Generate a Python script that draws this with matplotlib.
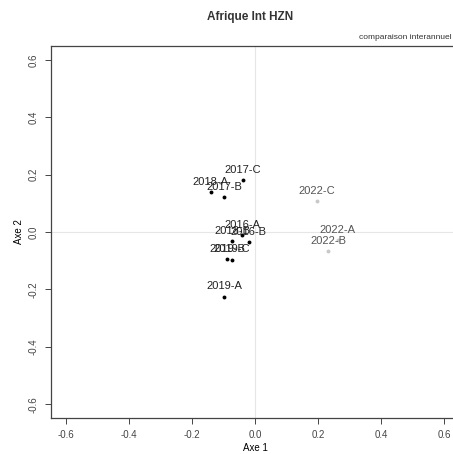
import matplotlib.pyplot as plt

plt.rcParams['font.family'] = ['Liberation Sans', 'DejaVu Sans']

# coordinates of each sample on the first two axes
labels = ["2016-A", "2016-B", "2017-B", "2017-C", "2018-A", "2018-B",
          "2019-A", "2019-B", "2019-C", "2022-A", "2022-B", "2022-C"]
axe1 = [-0.041, -0.020, -0.098, -0.038, -0.140, -0.073,
        -0.098, -0.089, -0.073, 0.263, 0.232, 0.197]
axe2 = [-0.012, -0.035, 0.122, 0.181, 0.139, -0.033,
        -0.226, -0.094, -0.097, -0.028, -0.066, 0.108]
# the 2022 samples are shown in grey
recent = [lab.startswith("2022") for lab in labels]

ticks = [-0.6, -0.4, -0.2, 0.0, 0.2, 0.4, 0.6]

W, H = 453, 454
fig = plt.figure(figsize=(W / 100, H / 100), dpi=100)
# R-style plot region; its right edge runs a little past the picture
left, right, top, bottom = 51, 459, 46, 418
ax = fig.add_axes([left / W, (H - bottom) / H, (right - left) / W, (bottom - top) / H])

ax.axhline(0, color='#e6e6e6', linewidth=0.8, zorder=0)
ax.axvline(0, color='#e6e6e6', linewidth=0.8, zorder=0)

for x, y, lab, grey in zip(axe1, axe2, labels, recent):
    col = '#c8c8c8' if grey else 'black'
    ax.plot(x, y, 'o', color=col, markersize=2.8, markeredgewidth=0)
    ax.annotate(lab, (x, y), xytext=(0, 7.5), textcoords='offset points',
                ha='center', va='center', fontsize=8,
                color='#555555' if grey else '#222222')

ax.set_xlim(-0.648, 0.648)
ax.set_ylim(-0.648, 0.648)
ax.set_xticks(ticks)
ax.set_yticks(ticks)
ax.set_xticklabels([f"{t:.1f}" for t in ticks], fontsize=7, color='#444444')
ax.set_yticklabels([f"{t:.1f}" for t in ticks], fontsize=7, color='#444444',
                   rotation=90, va='center')
ax.tick_params(direction='out', length=4, width=0.7, color='#444444', pad=5)
for s in ax.spines.values():
    s.set_linewidth(0.9)
    s.set_color('#444444')

ax.set_xlabel('Axe 1', fontsize=7, labelpad=2)
ax.set_ylabel('Axe 2', fontsize=7, labelpad=3)

fig.text(250 / W, 1 - 17 / H, 'Afrique Int HZN', ha='center', va='center',
         fontsize=8.5, fontweight='bold', color='#333333')
fig.text(452 / W, 1 - 41 / H, 'comparaison interannuel',
         ha='right', va='bottom', fontsize=6, color='#333333')

plt.savefig('out.png', dpi=100)
